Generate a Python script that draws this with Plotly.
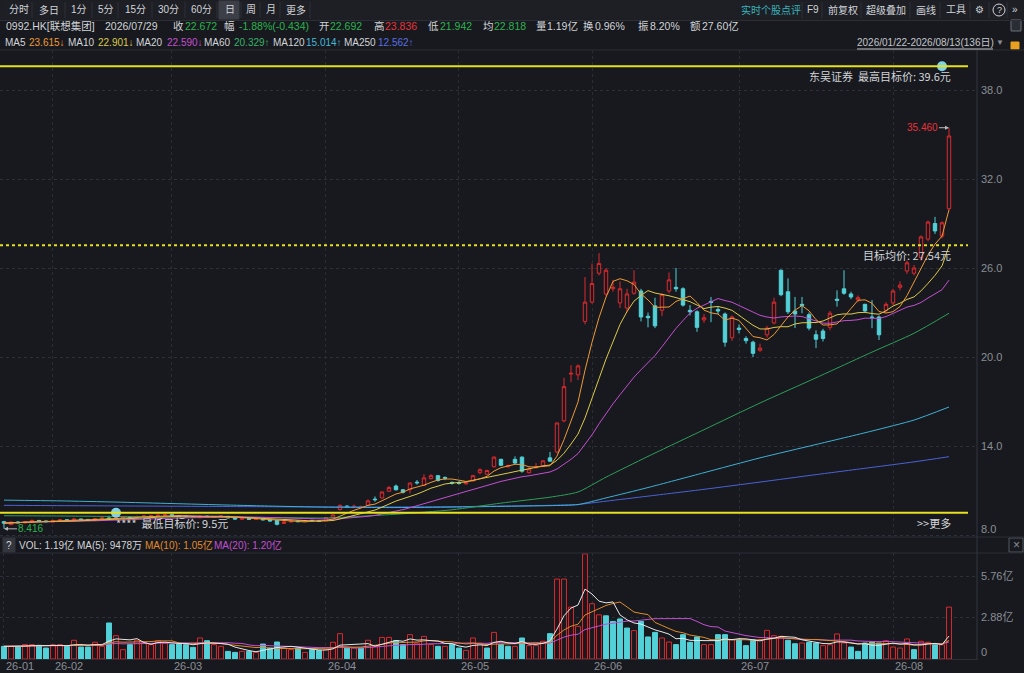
import pandas as pd
import plotly.graph_objects as go

# ---------------- data ----------------
HOLIDAYS = ["2026-02-17", "2026-02-18", "2026-02-19", "2026-04-03", "2026-04-06",
            "2026-04-07", "2026-05-01", "2026-05-25", "2026-06-19", "2026-07-01"]
_all = pd.bdate_range("2026-01-22", "2026-08-13")
DATES = [d.strftime("%Y-%m-%d") for d in _all if d.strftime("%Y-%m-%d") not in HOLIDAYS]

OPEN = [8.90, 8.70, 8.88, 8.82, 8.88, 8.98, 8.95, 8.88, 8.95, 9.03,
        8.97, 9.08, 9.05, 9.00, 9.10, 9.15, 9.06, 9.18, 9.23, 9.17,
        9.24, 9.27, 9.28, 9.32, 9.37, 9.30, 9.27, 9.23, 9.16, 9.27,
        9.19, 9.23, 9.26, 9.15, 9.06, 9.12, 9.05, 9.10, 9.02, 8.98,
        8.78, 8.88, 8.95, 8.90, 8.99, 8.96, 8.95, 9.18, 9.72, 9.95,
        9.93, 9.88, 10.00, 10.42, 10.50, 10.95, 11.30, 11.05, 11.05, 11.56,
        11.35, 11.80, 12.00, 11.88, 11.55, 11.52, 11.45, 11.65, 12.20, 12.10,
        12.60, 13.10, 12.60, 13.10, 13.25, 12.20, 12.58, 12.65, 13.20, 13.60,
        15.70, 18.85, 18.80, 22.40, 23.70, 25.65, 24.25, 24.60, 23.65, 23.30,
        24.30, 24.45, 22.75, 23.45, 23.15, 24.45, 24.70, 24.60, 23.15, 23.05,
        22.50, 23.75, 23.20, 22.90, 21.30, 21.95, 21.25, 21.00, 20.45, 21.50,
        22.30, 25.85, 24.40, 23.10, 23.55, 22.85, 21.50, 21.75, 22.00, 23.90,
        24.60, 24.25, 23.85, 23.55, 22.692, 22.70, 23.15, 23.65, 24.70, 25.80,
        25.65, 26.70, 27.95, 29.00, 28.15, 30.00]
HIGH = [8.95, 8.92, 8.93, 8.95, 9.05, 9.02, 8.98, 9.02, 9.08, 9.06,
        9.15, 9.10, 9.08, 9.15, 9.20, 9.30, 9.24, 9.28, 9.26, 9.30,
        9.33, 9.35, 9.38, 9.42, 9.40, 9.33, 9.30, 9.25, 9.32, 9.30,
        9.28, 9.32, 9.28, 9.18, 9.16, 9.14, 9.14, 9.12, 9.05, 9.00,
        8.95, 8.98, 8.97, 9.02, 9.01, 8.98, 9.22, 9.40, 10.05, 10.00,
        10.05, 9.98, 10.40, 10.60, 10.95, 11.30, 11.40, 11.10, 11.55, 11.70,
        12.10, 12.10, 12.05, 11.95, 11.60, 11.65, 11.60, 12.05, 12.50, 12.40,
        13.30, 13.15, 12.75, 13.30, 13.30, 12.55, 12.85, 13.05, 13.60, 15.60,
        18.60, 19.45, 19.50, 25.40, 26.30, 27.00, 26.00, 25.20, 25.10, 24.60,
        25.85, 24.60, 23.00, 24.00, 24.30, 25.70, 26.00, 24.70, 23.50, 23.15,
        22.90, 24.05, 23.40, 23.00, 22.80, 22.20, 21.40, 21.10, 20.90, 22.10,
        24.00, 25.90, 25.30, 24.05, 24.05, 23.00, 21.80, 21.90, 23.10, 24.50,
        25.85, 24.40, 24.15, 23.60, 23.836, 22.80, 23.70, 24.60, 25.10, 26.50,
        26.20, 28.20, 29.20, 29.45, 29.15, 35.46]
LOW = [8.416, 8.75, 8.78, 8.78, 8.85, 8.90, 8.85, 8.85, 8.92, 8.94,
       8.95, 9.00, 8.96, 8.98, 9.06, 9.00, 9.04, 9.15, 9.14, 9.15,
       9.20, 9.24, 9.25, 9.28, 9.26, 9.22, 9.18, 9.14, 9.14, 9.16,
       9.16, 9.20, 9.12, 9.04, 9.03, 9.02, 9.02, 8.98, 8.90, 8.65,
       8.74, 8.84, 8.86, 8.88, 8.90, 8.88, 8.93, 9.15, 9.65, 9.82,
       9.85, 9.85, 9.95, 10.25, 10.45, 10.90, 11.00, 10.80, 10.80, 11.40,
       11.30, 11.75, 11.60, 11.70, 11.40, 11.40, 11.40, 11.60, 12.10, 12.05,
       12.55, 12.65, 12.55, 12.80, 12.20, 12.15, 12.45, 12.60, 12.95, 13.50,
       15.60, 18.30, 18.45, 22.20, 23.60, 25.50, 24.10, 24.40, 23.30, 23.00,
       24.20, 22.40, 22.00, 21.95, 22.75, 24.30, 24.40, 23.40, 22.80, 21.70,
       22.30, 22.35, 22.90, 20.70, 21.10, 21.60, 20.90, 20.00, 20.35, 21.30,
       22.20, 24.10, 22.90, 21.95, 22.95, 21.80, 20.60, 21.05, 21.80, 23.40,
       24.20, 23.90, 23.70, 23.00, 21.942, 21.15, 23.00, 23.50, 24.50, 25.60,
       25.50, 26.50, 27.80, 28.30, 28.00, 29.90]
CLOSE = [8.80, 8.86, 8.82, 8.90, 8.98, 8.94, 8.90, 8.97, 9.02, 8.98,
         9.08, 9.04, 9.00, 9.10, 9.14, 9.08, 9.18, 9.22, 9.18, 9.25,
         9.28, 9.30, 9.33, 9.36, 9.30, 9.26, 9.22, 9.18, 9.26, 9.20,
         9.24, 9.27, 9.15, 9.08, 9.12, 9.06, 9.10, 9.02, 8.95, 8.72,
         8.88, 8.94, 8.90, 8.98, 8.95, 8.92, 9.18, 9.35, 10.00, 9.88,
         9.93, 9.92, 10.30, 10.38, 10.90, 11.20, 11.05, 10.88, 11.50, 11.52,
         11.85, 12.00, 11.68, 11.83, 11.50, 11.48, 11.55, 12.00, 12.40, 12.35,
         13.25, 12.70, 12.68, 12.85, 12.30, 12.45, 12.62, 13.00, 12.98, 15.55,
         18.00, 18.90, 19.40, 23.70, 24.95, 26.30, 25.85, 24.70, 24.60, 24.25,
         25.05, 22.70, 22.65, 22.10, 24.20, 25.20, 24.60, 23.50, 23.05, 22.00,
         22.65, 23.68, 23.10, 21.00, 22.70, 21.85, 21.10, 20.25, 20.60, 21.95,
         23.70, 24.20, 23.05, 22.90, 23.48, 21.95, 21.20, 21.25, 22.95, 23.82,
         24.30, 24.05, 24.00, 23.106, 22.672, 21.50, 23.55, 24.45, 24.85, 26.35,
         26.00, 28.10, 29.10, 28.50, 29.05, 34.90]
VOLUME = [0.88, 0.88, 0.83, 1.00, 1.00, 0.95, 0.76, 1.00, 1.00, 0.88,
          1.30, 0.83, 0.83, 1.16, 0.88, 2.50, 1.62, 0.65, 1.00, 1.30,
          1.16, 1.00, 1.27, 1.10, 1.00, 1.04, 1.00, 0.81, 1.46, 1.27,
          1.00, 0.88, 0.53, 0.46, 0.53, 0.53, 0.46, 1.04, 0.76, 1.18,
          0.76, 0.65, 0.76, 0.46, 0.65, 0.60, 0.65, 1.16, 1.76, 0.76,
          0.76, 0.76, 1.30, 0.88, 1.50, 1.50, 1.27, 1.00, 1.69, 1.10,
          1.57, 1.00, 0.88, 0.88, 1.00, 0.76, 0.60, 1.46, 1.10, 0.76,
          1.85, 1.00, 0.88, 0.88, 1.46, 0.93, 0.93, 1.23, 1.76, 5.55,
          5.55, 3.60, 2.27, 7.30, 3.84, 3.07, 3.00, 2.61, 2.78, 2.15,
          1.97, 2.61, 1.53, 1.85, 1.46, 1.18, 1.00, 1.69, 1.16, 1.53,
          1.00, 1.00, 1.69, 1.69, 1.34, 1.34, 0.93, 1.34, 1.34, 1.99,
          1.62, 1.57, 1.30, 1.06, 1.11, 1.16, 1.11, 0.93, 0.99, 1.74,
          1.11, 0.83, 0.53, 1.11, 1.19, 1.11, 1.27, 0.83, 0.76, 1.39,
          0.65, 1.23, 1.16, 0.99, 0.99, 3.60]

# long moving averages at sample days
MA_IDX = [0, 8, 16, 24, 32, 40, 46, 56, 64, 71, 78, 82, 86, 92, 100, 108, 116, 124, 130, 135]
MA60 = [9.30, 9.28, 9.25, 9.22, 9.20, 9.17, 9.15, 9.40, 9.70, 10.15, 10.55, 10.90,
        11.90, 13.30, 15.10, 16.90, 18.60, 20.33, 21.60, 22.95]
MA120 = [10.35, 10.30, 10.22, 10.12, 10.02, 9.93, 9.88, 9.85, 9.88, 9.93, 9.98, 10.05,
         10.50, 11.20, 12.20, 13.20, 14.10, 15.01, 15.75, 16.63]
MA250 = [10.00, 9.98, 9.96, 9.94, 9.92, 9.90, 9.89, 9.89, 9.91, 9.95, 10.00, 10.06,
         10.28, 10.62, 11.08, 11.57, 12.07, 12.56, 12.93, 13.28]

TARGET_HIGH, TARGET_AVG, TARGET_LOW = 39.6, 27.54, 9.5
TARGET_HIGH_DAY, TARGET_LOW_DAY = 134, 16

MONTH_TICKS = ["2026-01-22", "2026-02-02", "2026-03-02", "2026-04-01",
               "2026-05-04", "2026-06-01", "2026-07-02", "2026-08-03"]
MONTH_LABELS = ["26-01", "26-02", "26-03", "26-04", "26-05", "26-06", "26-07", "26-08"]
PRICE_TICKS = [8, 14, 20, 26, 32, 38]
VOL_TICKS = [0, 2.88, 5.76]
VOL_TICK_LABELS = ["0", "2.88亿", "5.76亿"]

# ---------------- styles ----------------
BG = "#17191e"
RED = "#dc2a2f"
CYAN = "#52d2d8"
W = "#d2d4d8"
GRAY = "#8b8e95"
GRN = "#2cb34f"
C_MA5, C_MA10, C_MA20 = "#ee9a35", "#dcc84a", "#c34fd0"
C_MA60, C_MA120, C_MA250 = "#2e9e58", "#3fb0d4", "#4a62d6"
YEL = "#e6e020"
FONT = "Noto Sans CJK SC, Noto Sans, sans-serif"
HFONT = "Liberation Sans, Noto Sans CJK SC, sans-serif"
FW, FH = 977.0, 673.0   # plot (paper) size in px

s = pd.Series(CLOSE)
ma5 = s.rolling(5, min_periods=1).mean()
ma10 = s.rolling(10, min_periods=1).mean()
ma20 = s.rolling(20, min_periods=1).mean()
v = pd.Series(VOLUME)
vma5 = v.rolling(5, min_periods=1).mean()
vma10 = v.rolling(10, min_periods=1).mean()
vma20 = v.rolling(20, min_periods=1).mean()

vol_up = [(CLOSE[i] >= CLOSE[i - 1]) if i > 0 else (CLOSE[0] >= OPEN[0]) for i in range(len(CLOSE))]

fig = go.Figure()
fig.add_trace(go.Candlestick(
    x=DATES, open=OPEN, high=HIGH, low=LOW, close=CLOSE,
    increasing=dict(line=dict(color=RED, width=1), fillcolor=BG),
    decreasing=dict(line=dict(color=CYAN, width=1), fillcolor=CYAN),
    whiskerwidth=0, xaxis="x", yaxis="y", hoverinfo="skip"))

ma_x = [DATES[i] for i in MA_IDX]
for vals, col in [(MA250, C_MA250), (MA120, C_MA120), (MA60, C_MA60)]:
    fig.add_trace(go.Scatter(x=ma_x, y=vals, mode="lines",
                             line=dict(color=col, width=1, shape="spline", smoothing=0.6),
                             xaxis="x", yaxis="y", hoverinfo="skip"))
for ser, col in [(ma20, C_MA20), (ma10, C_MA10), (ma5, C_MA5)]:
    fig.add_trace(go.Scatter(x=DATES, y=ser, mode="lines", line=dict(color=col, width=1),
                             xaxis="x", yaxis="y", hoverinfo="skip"))

# analyst target markers
fig.add_trace(go.Scatter(x=[DATES[TARGET_HIGH_DAY], DATES[TARGET_LOW_DAY]], y=[TARGET_HIGH, TARGET_LOW],
                         mode="markers", marker=dict(color="#7fd3e6", size=10),
                         xaxis="x", yaxis="y", hoverinfo="skip"))

fig.add_trace(go.Bar(
    x=DATES, y=VOLUME, width=0.7,
    marker=dict(color=[BG if u else CYAN for u in vol_up],
                line=dict(color=[RED if u else CYAN for u in vol_up], width=1)),
    xaxis="x2", yaxis="y2", hoverinfo="skip"))
for ser, col in [(vma20, C_MA20), (vma10, "#e08a2a"), (vma5, "#e8e8e8")]:
    fig.add_trace(go.Scatter(x=DATES, y=ser, mode="lines", line=dict(color=col, width=1),
                             xaxis="x2", yaxis="y2", hoverinfo="skip"))

shapes = []
ann = []


def px(x):
    return x / FW


def py(y):
    return 1 - y / FH


def txt(x, y, t, color=W, size=11, xanchor="left", family=HFONT):
    ann.append(dict(x=px(x), y=py(y), xref="paper", yref="paper", text=t, showarrow=False,
                    xanchor=xanchor, yanchor="middle", borderpad=0,
                    font=dict(color=color, size=size, family=family)))


def hline(y, x0=0, x1=1024, color="#2a2d34", width=1, dash=None):
    shapes.append(dict(type="line", xref="paper", yref="paper", x0=px(x0), x1=px(x1), y0=py(y), y1=py(y),
                       line=dict(color=color, width=width, dash=dash)))


def vline(x, y0, y1, color="#2a2d34", width=1):
    shapes.append(dict(type="line", xref="paper", yref="paper", x0=px(x), x1=px(x), y0=py(y0), y1=py(y1),
                       line=dict(color=color, width=width)))


def rect(x0, y0, x1, y1, fill, line=None):
    shapes.append(dict(type="rect", xref="paper", yref="paper", x0=px(x0), x1=px(x1), y0=py(y0), y1=py(y1),
                       fillcolor=fill, line=dict(color=line or fill, width=1), layer="below"))


# header backgrounds
rect(0, 0, 1024, 20, "#1d1f25")
rect(219, 1, 239, 19, "#3c3f47")
hline(20.5, color="#2c2f36")
hline(50, color="#2c2f36")
hline(537, color="#2c2f36")
hline(553, color="#2c2f36")
vline(977, 50, 660, color="#34373e")

# toolbar
for x, t in [(8, "分时"), (38, "多日"), (70, "1分"), (97, "5分"), (124, "15分"), (157, "30分"),
             (190, "60分"), (224, "日"), (245, "周"), (265, "月"), (285, "更多")]:
    txt(x, 10, t, W, 10)
for x in [32, 65, 92, 118, 152, 185, 217, 241, 260, 280, 310]:
    vline(x, 2, 18, color="#2e3138")
txt(740, 10, "实时个股点评", "#39b4bd", 10)
for x, t in [(806, "F9"), (827, "前复权"), (865, "超级叠加"), (915, "画线"), (945, "工具"), (974, "⚙"), (1011, "»")]:
    txt(x, 10, t, W, 10)
shapes.append(dict(type="circle", xref="paper", yref="paper", x0=px(993), x1=px(1005), y0=py(4), y1=py(16),
                   line=dict(color=W, width=1)))
txt(999, 10, "?", W, 9, xanchor="center")
for x in [802, 822, 861, 910, 940, 970, 989, 1007]:
    vline(x, 2, 18, color="#2e3138")

# quote row
for x, t, c in [(5, "0992.HK[联想集团]", W), (104, "2026/07/29", W), (172, "收", W), (184, "22.672", GRN),
                (223, "幅", W), (238, "-1.88%(-0.434)", GRN), (318, "开", W), (329, "22.692", GRN),
                (373, "高", W), (384, "23.836", "#e8333a"), (427, "低", W), (439, "21.942", GRN),
                (482, "均", W), (493, "22.818", GRN), (535, "量", W), (546, "1.19亿", W),
                (582, "换", W), (594, "0.96%", W), (637, "振", W), (649, "8.20%", W),
                (689, "额", W), (701, "27.60亿", W)]:
    txt(x, 26, t, c, 10.5)
rect(1011, 20, 1021, 31, "#2a2d34", "#6d7078")

# MA row
for x, t, c in [(4, "MA5", W), (28, "23.615↓", C_MA5), (67, "MA10", W), (97, "22.901↓", C_MA10),
                (135, "MA20", W), (166, "22.590↓", C_MA20), (203, "MA60", W), (233, "20.329↑", "#3ab06a"),
                (272, "MA120", W), (305, "15.014↑", "#46b6d6"), (343, "MA250", W), (377, "12.562↑", "#5b6fe0")]:
    txt(x, 42, t, c, 10)
txt(856, 42, "2026/01/22-2026/08/13(136日)", "#c4c6ca", 10)
hline(49, 857, 993, color="#c4c6ca")
txt(995, 42, "▼", GRAY, 8)
rect(1011, 42, 1019, 49, "#e8a020")

# volume legend row
rect(3, 538, 15, 552, "#33363d")
txt(9, 545, "?", W, 10, xanchor="center")
for x, t, c in [(18, "VOL: 1.19亿", W), (76, "MA(5): 9478万", W), (144, "MA(10): 1.05亿", "#e08a2a"),
                (213, "MA(20): 1.20亿", C_MA20)]:
    txt(x, 545, t, c, 10)
rect(1009, 538, 1023, 552, BG, "#55585f")
txt(1016, 545, "×", GRAY, 12, xanchor="center")

# month labels under the volume panel (start at the first trading day of each month)
for d, lab in zip(MONTH_TICKS, MONTH_LABELS):
    ann.append(dict(x=d, y=py(666), xref="x2", yref="paper", text=lab, showarrow=False,
                    xanchor="left", yanchor="middle", xshift=1, borderpad=0,
                    font=dict(color=GRAY, size=11, family=HFONT)))

# bottom-most axis labels sit just above their grid line (as in the terminal)
ann.append(dict(x=px(980), y=PRICE_TICKS[0], xref="paper", yref="y", yshift=6, text=f"{PRICE_TICKS[0]:.1f}",
                showarrow=False, xanchor="left", yanchor="middle", borderpad=0,
                font=dict(color=GRAY, size=11, family=HFONT)))
ann.append(dict(x=px(980), y=VOL_TICKS[0], xref="paper", yref="y2", yshift=7, text=VOL_TICK_LABELS[0],
                showarrow=False, xanchor="left", yanchor="middle", borderpad=0,
                font=dict(color=GRAY, size=11, family=HFONT)))

# target lines
for yv, dash in [(TARGET_HIGH, None), (TARGET_AVG, "dot"), (TARGET_LOW, None)]:
    shapes.append(dict(type="line", xref="paper", yref="y", x0=0, x1=px(968), y0=yv, y1=yv,
                       line=dict(color=YEL, width=2, dash=dash), layer="above"))
ann.append(dict(x=px(953), y=TARGET_HIGH, xref="paper", yref="y", yshift=-10, text="东吴证券  最高目标价: 39.6元",
                showarrow=False, xanchor="right", yanchor="middle", font=dict(color=W, size=11, family=FONT)))
ann.append(dict(x=px(953), y=TARGET_AVG, xref="paper", yref="y", yshift=-10, text="目标均价: 27.54元",
                showarrow=False, xanchor="right", yanchor="middle", font=dict(color=W, size=11, family=FONT)))
ann.append(dict(x=DATES[TARGET_LOW_DAY], y=TARGET_LOW, xref="x", yref="y", yshift=-10, xshift=-2,
                text="****  最低目标价: 9.5元", showarrow=False, xanchor="left", yanchor="middle",
                font=dict(color=W, size=11, family=FONT)))
ann.append(dict(x=px(953), y=TARGET_LOW, xref="paper", yref="y", yshift=-10, text="&gt;&gt;更多",
                showarrow=False, xanchor="right", yanchor="middle", font=dict(color=W, size=11, family=FONT)))

# max / min labels
imax = max(range(len(HIGH)), key=lambda i: HIGH[i])
imin = min(range(len(LOW)), key=lambda i: LOW[i])
ann.append(dict(x=DATES[imax], y=HIGH[imax], xref="x", yref="y", text=f"{HIGH[imax]:.3f}", showarrow=True,
                ax=-27, ay=0, arrowhead=2, arrowsize=0.8, arrowwidth=1, arrowcolor="#b8b8b8",
                font=dict(color="#e8333a", size=10, family=HFONT)))
ann.append(dict(x=DATES[imin], y=LOW[imin], xref="x", yref="y", text=f"{LOW[imin]:.3f}", showarrow=True,
                ax=27, ay=0, arrowhead=2, arrowsize=0.8, arrowwidth=1, arrowcolor="#b8b8b8",
                font=dict(color=GRN, size=10, family=HFONT)))

XR = [-0.57, 139.0]
fig.update_layout(
    width=1024, height=673, margin=dict(l=0, r=47, t=0, b=0, autoexpand=False),
    paper_bgcolor=BG, plot_bgcolor=BG, showlegend=False,
    font=dict(family=HFONT, color=GRAY, size=11),
    shapes=shapes, annotations=ann,
    xaxis=dict(type="category", domain=[0, 1], anchor="y", range=XR, rangeslider=dict(visible=False),
               showticklabels=False, tickvals=MONTH_TICKS[1:], showgrid=True, gridcolor="#2a2d34",
               griddash="dot", zeroline=False, showline=False, ticks="", automargin=False),
    yaxis=dict(domain=[(FH - 537) / FH, (FH - 50) / FH], range=[7.865, 40.70], side="right",
               tickvals=PRICE_TICKS, ticktext=[""] + [f"{t:.1f}" for t in PRICE_TICKS[1:]], showgrid=True,
               gridcolor="#2d3038", griddash="dot", zeroline=False, ticks="", ticklabelstandoff=3,
               tickfont=dict(color=GRAY, size=11), automargin=False),
    xaxis2=dict(type="category", domain=[0, 1], anchor="y2", range=XR, matches="x",
                tickvals=MONTH_TICKS, showticklabels=False,
                showgrid=True, gridcolor="#2a2d34", griddash="dot", zeroline=False,
                showline=True, linecolor="#2c2f36", ticks="", automargin=False),
    yaxis2=dict(domain=[(FH - 659) / FH, (FH - 553) / FH], range=[0, 7.36], side="right",
                tickvals=VOL_TICKS, ticktext=[""] + VOL_TICK_LABELS[1:], showgrid=True, gridcolor="#2d3038",
                griddash="dot", zeroline=False, ticks="", ticklabelstandoff=3,
                tickfont=dict(color=GRAY, size=11), automargin=False),
)
POST = ("document.documentElement.style.overflow='hidden';"
        "document.body.style.margin='0';document.body.style.overflow='hidden';")
fig.write_html("out.html", config={"displayModeBar": False}, post_script=POST)
